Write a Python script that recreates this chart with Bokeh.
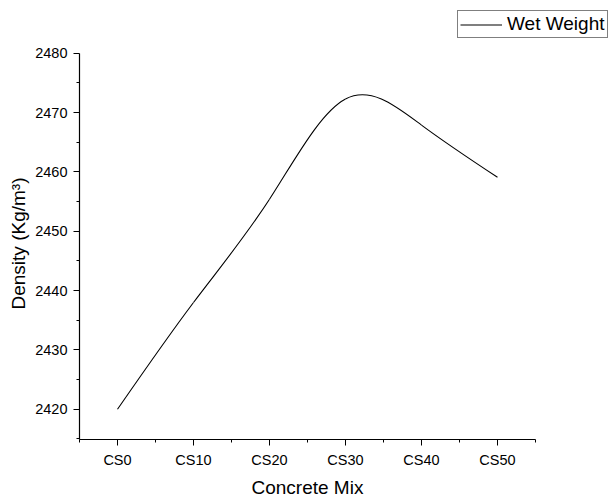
import numpy as np
from bokeh.plotting import figure
from bokeh.models import FixedTicker, Legend, LegendItem, Range1d, ColumnDataSource, Title
from bokeh.embed import file_html
from bokeh.resources import INLINE

# ---- data ----
mixes = ["CS0", "CS10", "CS20", "CS30", "CS40", "CS50"]
wet_weight = [2420.0, 2438.0, 2455.4, 2472.3, 2467.9, 2459.1]
y_ticks = [2420, 2430, 2440, 2450, 2460, 2470, 2480]
series_name = "Wet Weight"
x_title = "Concrete Mix"
y_title = "Density (Kg/m³)"

xs = list(range(len(mixes)))
n = len(xs)

# smooth connection (natural cubic spline, as in the original) drawn as Bezier segments
yv = np.array(wet_weight)
A = np.zeros((n, n))
b = np.zeros(n)
A[0, 0] = 1
A[-1, -1] = 1
for i in range(1, n - 1):
    A[i, i - 1], A[i, i], A[i, i + 1] = 1, 4, 1
    b[i] = 6 * (yv[i + 1] - 2 * yv[i] + yv[i - 1])
M = np.linalg.solve(A, b)
slopes = [(yv[i + 1] - yv[i]) - (2 * M[i] + M[i + 1]) / 6 for i in range(n - 1)]
slopes.append((yv[-1] - yv[-2]) + (M[-2] + 2 * M[-1]) / 6)

src = ColumnDataSource(dict(
    x0=xs[:-1], y0=wet_weight[:-1],
    x1=xs[1:], y1=wet_weight[1:],
    cx0=[x + 1 / 3 for x in xs[:-1]],
    cy0=[wet_weight[i] + slopes[i] / 3 for i in range(n - 1)],
    cx1=[x - 1 / 3 for x in xs[1:]],
    cy1=[wet_weight[i + 1] - slopes[i + 1] / 3 for i in range(n - 1)],
))

FONT = "Liberation Sans"

p = figure(width=609, height=501, output_backend="svg", toolbar_location=None,
           x_range=Range1d(-0.5, 6.474), y_range=Range1d(2414.9, 2488.9),
           min_border=0, min_border_left=79, min_border_top=0,
           min_border_bottom=60, min_border_right=0)
p.outline_line_color = None
p.xgrid.visible = False
p.ygrid.visible = False
p.background_fill_color = "white"
p.border_fill_color = "white"

r = p.bezier(x0="x0", y0="y0", x1="x1", y1="y1", cx0="cx0", cy0="cy0",
             cx1="cx1", cy1="cy1", source=src, line_color="black", line_width=1.1)

# x axis
xa = p.xaxis[0]
xa.ticker = FixedTicker(ticks=xs, minor_ticks=[x - 0.5 for x in xs] + [xs[-1] + 0.5])
xa.major_label_overrides = {i: m for i, m in zip(xs, mixes)}
xa.bounds = (-0.5, 5.5)

# y axis
ya = p.yaxis[0]
ya.ticker = FixedTicker(ticks=y_ticks, minor_ticks=[t + 5 for t in y_ticks[:-1]] + [2415])
ya.bounds = (2414.9, 2480)

for ax in (xa, ya):
    ax.axis_line_color = "black"
    ax.axis_line_width = 1.2
    ax.major_tick_line_color = "black"
    ax.minor_tick_line_color = "black"
    ax.major_tick_in = 0
    ax.major_tick_out = 6
    ax.minor_tick_in = 0
    ax.minor_tick_out = 3
    ax.major_label_text_font = FONT
    ax.major_label_text_font_size = "14.5px"
    ax.major_label_text_color = "black"
    ax.major_label_standoff = 6

# axis titles centred on the drawn axes (not on the wider frame)
xt = Title(text=x_title, align="left", offset=172, standoff=8,
           text_font=FONT, text_font_size="19px", text_font_style="normal",
           text_color="black")
p.add_layout(xt, "below")
yt = Title(text=y_title, align="left", offset=130, standoff=7,
           text_font=FONT, text_font_size="19px", text_font_style="normal",
           text_color="black")
p.add_layout(yt, "left")

legend = Legend(items=[LegendItem(label=series_name, renderers=[r])],
                location=(378, 401), orientation="vertical",
                border_line_color="black", border_line_width=1,
                background_fill_alpha=1, padding=2, margin=0, spacing=0,
                glyph_width=42, glyph_height=21, label_standoff=5,
                label_text_font=FONT, label_text_font_size="19px",
                label_text_color="black", label_height=21)
p.add_layout(legend, "center")

open("out.html", "w").write(file_html(p, INLINE))
